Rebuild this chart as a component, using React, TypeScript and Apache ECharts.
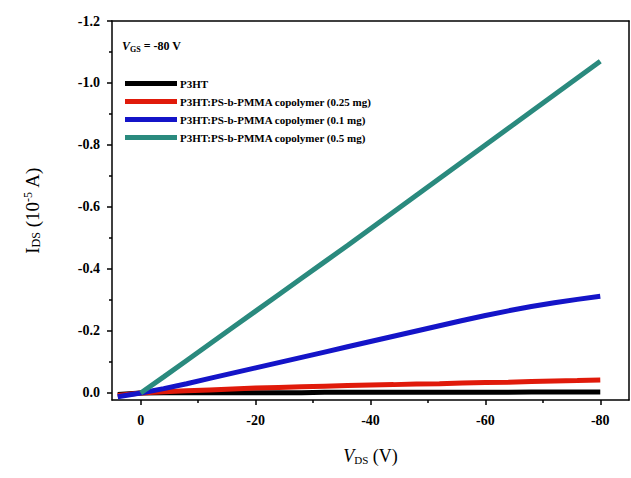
import React, { useEffect, useRef } from "react";
import * as echarts from "echarts";

const vds = [4, 0, -4, -8, -12, -16, -20, -24, -28, -32, -36, -40, -44, -48, -52, -56, -60, -64, -68, -72, -76, -80];
const seriesNames = [
  "P3HT",
  "P3HT:PS-b-PMMA copolymer (0.25 mg)",
  "P3HT:PS-b-PMMA copolymer (0.1 mg)",
  "P3HT:PS-b-PMMA copolymer (0.5 mg)",
];
const blackI = [0.005, 0.0, -0.001, -0.001, -0.001, -0.001, -0.001, -0.001, -0.001, -0.002, -0.002, -0.002, -0.002, -0.002, -0.002, -0.002, -0.002, -0.002, -0.003, -0.003, -0.003, -0.003];
const redI = [0.008, 0.0, -0.004, -0.007, -0.01, -0.013, -0.016, -0.018, -0.02, -0.022, -0.024, -0.026, -0.027, -0.029, -0.03, -0.032, -0.034, -0.035, -0.037, -0.039, -0.04, -0.042];
const blueI = [0.012, 0.0, -0.014, -0.03, -0.047, -0.064, -0.081, -0.098, -0.115, -0.132, -0.149, -0.166, -0.183, -0.2, -0.217, -0.234, -0.25, -0.265, -0.279, -0.291, -0.302, -0.312];
const tealI = [null, 0.0, -0.052, -0.105, -0.158, -0.211, -0.264, -0.317, -0.37, -0.423, -0.476, -0.53, -0.584, -0.638, -0.692, -0.746, -0.8, -0.854, -0.908, -0.962, -1.016, -1.07];
const colors = ["#000000", "#e01a0a", "#1414c8", "#2a8a7e"];
const xMajor = [0, -20, -40, -60, -80];
const xMinor = [-10, -30, -50, -70];
const yMajor = [0, -0.2, -0.4, -0.6, -0.8, -1.0, -1.2];
const yMinor = [-0.1, -0.3, -0.5, -0.7, -0.9, -1.1];

const FONT = "Liberation Serif";

export default function App() {
  const ref = useRef<HTMLDivElement>(null);
  useEffect(() => {
    if (!ref.current) return;
    const chart = echarts.init(ref.current, null, { renderer: "svg" });
    const all = [blackI, redI, blueI, tealI];
    const series = all.map((arr, i) => ({
      name: seriesNames[i],
      type: "line",
      xAxisIndex: 0,
      yAxisIndex: 0,
      data: vds.map((v, k) => (arr[k] === null ? null : [v, arr[k]])).filter((d) => d !== null),
      showSymbol: false,
      lineStyle: { color: colors[i], width: 5 },
      itemStyle: { color: colors[i] },
      z: 2 + i,
    }));
    const xBase = { type: "value", min: -85, max: 5, inverse: true, gridIndex: 0, splitLine: { show: false } };
    const yBase = { type: "value", min: -1.2, max: 0.0226, inverse: true, gridIndex: 0, splitLine: { show: false } };
    const lineOnly = { show: true, onZero: false, lineStyle: { color: "#000", width: 1.5 } };
    chart.setOption({
      animation: false,
      backgroundColor: "#ffffff",
      grid: { left: 112, right: 2, top: 21, bottom: 78 },
      xAxis: [
        {
          ...xBase,
          position: "bottom",
          axisLine: lineOnly,
          axisTick: { show: true, inside: false, length: 5, customValues: xMajor, lineStyle: { color: "#000", width: 1.5 } },
          axisLabel: { show: true, customValues: xMajor, margin: 13, color: "#000", fontFamily: FONT, fontWeight: "bold", fontSize: 14, formatter: (v: number) => String(v) },
          name: "{i|V}{s|DS} (V)",
          nameLocation: "middle",
          nameGap: 46,
          nameTextStyle: { color: "#000", fontFamily: FONT, fontSize: 18, rich: { i: { fontStyle: "italic", fontSize: 18, fontFamily: FONT }, s: { fontSize: 11, verticalAlign: "bottom", padding: [8, 0, 0, 0], fontFamily: FONT } } },
        },
        {
          ...xBase,
          position: "bottom",
          axisLine: { show: false, onZero: false },
          axisTick: { show: true, inside: false, length: 3, customValues: xMinor, lineStyle: { color: "#000", width: 1.5 } },
          axisLabel: { show: false },
        },
        {
          ...xBase,
          position: "top",
          axisLine: lineOnly,
          axisTick: { show: false },
          axisLabel: { show: false },
        },
      ],
      yAxis: [
        {
          ...yBase,
          position: "left",
          axisLine: lineOnly,
          axisTick: { show: true, inside: false, length: 5, customValues: yMajor, lineStyle: { color: "#000", width: 1.5 } },
          axisLabel: { show: true, customValues: yMajor, margin: 12, color: "#000", fontFamily: FONT, fontWeight: "bold", fontSize: 14, formatter: (v: number) => (Math.abs(v) < 1e-9 ? "0.0" : v.toFixed(1)) },
          name: "{i|I}{s|DS} (10{p|-5} A)",
          nameLocation: "middle",
          nameGap: 70,
          nameRotate: 90,
          nameTextStyle: { color: "#000", fontFamily: FONT, fontSize: 19, rich: { i: { fontSize: 19, fontFamily: FONT }, s: { fontSize: 12, verticalAlign: "bottom", padding: [8, 0, 0, 0], fontFamily: FONT }, p: { fontSize: 12, verticalAlign: "top", padding: [0, 0, 8, 0], fontFamily: FONT } } },
        },
        {
          ...yBase,
          position: "left",
          axisLine: { show: false, onZero: false },
          axisTick: { show: true, inside: false, length: 3, customValues: yMinor, lineStyle: { color: "#000", width: 1.5 } },
          axisLabel: { show: false },
        },
        {
          ...yBase,
          position: "right",
          axisLine: lineOnly,
          axisTick: { show: false },
          axisLabel: { show: false },
        },
      ],
      legend: {
        show: true,
        orient: "vertical",
        left: 120,
        top: 73,
        itemWidth: 52,
        itemHeight: 5,
        itemGap: 7,
        icon: "rect",
        data: seriesNames,
        textStyle: { color: "#000", fontFamily: FONT, fontWeight: "bold", fontSize: 11, padding: [0, 0, 0, -2] },
      },
      graphic: [
        {
          type: "text",
          left: 122,
          top: 40,
          style: {
            text: "{i|V}{s|GS} = -80 V",
            fill: "#000",
            font: `bold 12px ${FONT}`,
            rich: {
              i: { fontStyle: "italic", fontWeight: "bold", fontSize: 12, fontFamily: FONT },
              s: { fontSize: 8, fontWeight: "bold", verticalAlign: "bottom", padding: [6, 0, 0, 0], fontFamily: FONT },
            },
          },
        },
      ],
      series,
    });
    return () => chart.dispose();
  }, []);
  return <div ref={ref} style={{ width: 631, height: 478, position: "absolute", left: 0, top: 0 }} />;
}
